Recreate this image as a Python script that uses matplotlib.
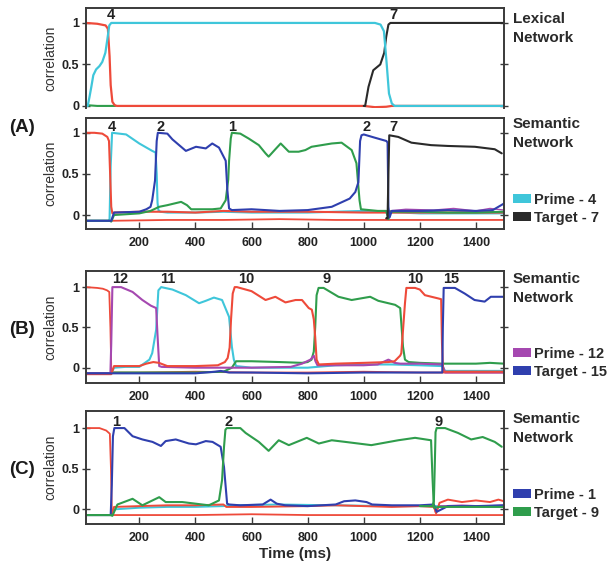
import matplotlib
matplotlib.use("Agg")
import matplotlib.pyplot as plt
from matplotlib.patches import Patch

plt.rcParams['font.family'] = ['Liberation Sans', 'DejaVu Sans']

# ---- data: (time in ms, correlation) ----
lex_red = ([10, 50, 80, 88, 94, 98, 104, 112, 120, 1000, 1040, 1080, 1100, 1500],
           [1.0, 0.99, 0.97, 0.93, 0.6, 0.25, 0.05, 0.01, 0.0, 0.0, -0.015, -0.01, 0.0, 0.0])
lex_cyan = ([10, 16, 22, 29, 36, 46, 58, 68, 79, 86, 93, 100, 1040, 1060, 1072, 1082, 1090, 1100, 1110, 1500],
            [0.0, 0.0, 0.1, 0.23, 0.37, 0.44, 0.48, 0.53, 0.64, 0.8, 0.97, 1.0, 1.0, 0.98, 0.9, 0.5, 0.15, 0.03, 0.0, 0.0])
lex_green = ([10, 50, 100, 115], [0.01, 0.0, 0.0, 0.0])
lex_black = ([1000, 1005, 1017, 1034, 1059, 1073, 1080, 1088, 1095, 1500],
             [0.0, 0.0, 0.23, 0.43, 0.5, 0.64, 0.83, 0.98, 1.0, 1.0])

a_red = ([10, 40, 68, 86, 92, 96, 100, 104, 110, 200, 300, 400, 500, 600, 800, 1000, 1200, 1500],
         [1.0, 1.0, 0.99, 0.95, 0.9, 0.5, 0.1, 0.02, 0.03, 0.04, 0.04, 0.03, 0.05, 0.04, 0.04, 0.03, 0.03, 0.03])
a_red_low = ([10, 100, 300, 500, 700, 900, 1100, 1300, 1500],
             [-0.07, -0.07, -0.06, -0.06, -0.05, -0.06, -0.06, -0.06, -0.06])
a_cyan = ([10, 90, 94, 98, 103, 153, 200, 246, 258, 262, 265, 268, 275, 300, 400, 500, 600, 800, 1000, 1200, 1500],
          [-0.07, -0.07, -0.05, 0.6, 1.0, 0.98, 0.87, 0.78, 0.76, 0.5, 0.15, 0.06, 0.04, 0.03, 0.03, 0.04, 0.03, 0.03, 0.05, 0.02, 0.02])
a_blue = ([10, 100, 110, 200, 225, 240, 246, 256, 262, 266, 300, 318, 366, 402, 437, 460, 484, 508, 514, 520, 530,
           600, 700, 800, 886, 950, 970, 981, 987, 992, 1000, 1040, 1081, 1085, 1088, 1092, 1100, 1200, 1300, 1400,
           1460, 1480, 1500],
          [-0.07, -0.07, 0.03, 0.04, 0.07, 0.1, 0.18, 0.42, 0.9, 1.0, 0.99, 0.92, 0.78, 0.83, 0.81, 0.87, 0.82, 0.66,
           0.3, 0.08, 0.06, 0.07, 0.05, 0.06, 0.1, 0.2, 0.28, 0.4, 0.9, 0.97, 0.98, 0.94, 0.9, 0.88, 0.1, -0.03, 0.05,
           0.05, 0.06, 0.05, 0.06, 0.1, 0.14])
a_green = ([10, 95, 100, 110, 200, 240, 271, 300, 349, 370, 385, 420, 460, 490, 508, 517, 520, 526, 530, 560, 590,
            626, 650, 661, 685, 704, 733, 768, 792, 814, 886, 921, 957, 974, 985, 990, 1050, 1080, 1088, 1095,
            1200, 1300, 1400, 1500],
           [-0.07, -0.07, -0.08, 0.0, 0.02, 0.05, 0.1, 0.12, 0.16, 0.12, 0.07, 0.07, 0.07, 0.08, 0.18, 0.43, 0.66,
            0.93, 1.0, 0.99, 0.93, 0.85, 0.75, 0.71, 0.8, 0.87, 0.77, 0.77, 0.79, 0.83, 0.87, 0.88, 0.79, 0.63, 0.18,
            0.07, 0.05, 0.05, -0.05, 0.04, 0.04, 0.03, 0.03, 0.04])
a_black = ([1080, 1085, 1088, 1091, 1123, 1170, 1240, 1300, 1396, 1467, 1492],
           [-0.04, -0.04, 0.5, 0.97, 0.95, 0.88, 0.85, 0.84, 0.83, 0.8, 0.75])
a_purple = ([1090, 1150, 1250, 1320, 1400, 1450, 1500], [0.05, 0.07, 0.06, 0.08, 0.05, 0.08, 0.06])
a_olive = ([1100, 1200, 1300, 1400, 1500], [0.03, 0.04, 0.03, 0.04, 0.03])

b_red_first = ([10, 50, 70, 85, 93, 97, 100, 104, 200, 400, 600, 800, 1000, 1200, 1500],
               [1.0, 0.99, 0.98, 0.96, 0.94, 0.5, 0.0, -0.06, -0.06, -0.05, -0.06, -0.06, -0.05, -0.06, -0.06])
b_red_ten = ([10, 100, 110, 200, 225, 250, 270, 300, 400, 480, 505, 515, 522, 527, 533, 540, 548, 600, 650, 685,
              721, 757, 780, 804, 815, 822, 827, 832, 840, 900, 1000, 1088, 1110, 1130, 1134, 1147, 1152, 1183,
              1200, 1218, 1265, 1276, 1279, 1283, 1350, 1420, 1500],
             [-0.08, -0.08, 0.02, 0.02, 0.05, 0.07, 0.06, 0.02, 0.02, 0.03, 0.07, 0.12, 0.25, 0.6, 0.92, 1.0, 1.0,
              0.95, 0.84, 0.88, 0.81, 0.84, 0.84, 0.74, 0.72, 0.6, 0.38, 0.1, 0.04, 0.05, 0.06, 0.07, 0.08, 0.15,
              0.18, 0.8, 0.99, 0.99, 0.97, 0.9, 0.86, 0.85, 0.3, -0.05, -0.05, -0.05, -0.05])
b_purple = ([10, 97, 100, 104, 135, 176, 211, 241, 260, 265, 271, 280, 400, 600, 740, 780, 810, 822, 828, 835, 900,
             1000, 1050, 1088, 1110, 1130, 1200, 1280, 1290, 1400, 1500],
            [-0.07, -0.07, 0.3, 1.0, 1.0, 0.94, 0.84, 0.77, 0.74, 0.4, 0.02, 0.01, 0.0, 0.0, 0.01, 0.05, 0.1, 0.15,
             0.08, 0.03, 0.03, 0.03, 0.04, 0.1, 0.06, 0.05, 0.05, 0.04, -0.06, -0.06, -0.06])
b_cyan = ([10, 100, 110, 150, 200, 236, 246, 260, 268, 278, 318, 366, 413, 437, 466, 495, 520, 530, 537, 545, 600,
           700, 800, 900, 1000, 1100, 1200, 1280, 1290, 1400, 1500],
          [-0.07, -0.07, 0.0, 0.01, 0.01, 0.1, 0.18, 0.47, 0.96, 1.0, 0.97, 0.9, 0.8, 0.83, 0.87, 0.84, 0.63, 0.26,
           0.1, 0.02, 0.0, 0.0, 0.0, 0.03, 0.04, 0.04, 0.03, 0.02, -0.04, -0.04, -0.04])
b_green = ([10, 100, 110, 200, 400, 500, 530, 545, 600, 700, 780, 800, 814, 822, 827, 832, 839, 857, 910, 957, 1023,
            1052, 1112, 1130, 1140, 1147, 1160, 1200, 1280, 1300, 1400, 1450, 1500],
           [-0.07, -0.07, -0.06, -0.06, -0.06, -0.05, 0.0, 0.08, 0.08, 0.07, 0.06, 0.07, 0.1, 0.2, 0.5, 0.9, 0.99,
            0.99, 0.88, 0.84, 0.88, 0.83, 0.78, 0.74, 0.26, 0.1, 0.07, 0.06, 0.05, 0.05, 0.05, 0.06, 0.05])
b_blue = ([10, 400, 470, 490, 520, 600, 800, 1000, 1200, 1280, 1282, 1285, 1325, 1360, 1395, 1431, 1453, 1500],
          [-0.07, -0.07, -0.05, -0.04, -0.06, -0.06, -0.07, -0.06, -0.06, -0.06, 0.5, 0.99, 0.99, 0.92, 0.84, 0.82,
           0.88, 0.88])

c_red_first = ([10, 58, 82, 95, 99, 102, 106, 200, 400, 600, 800, 1000, 1200, 1500],
               [1.0, 1.0, 0.97, 0.93, 0.5, -0.02, -0.07, -0.07, -0.07, -0.06, -0.07, -0.07, -0.07, -0.07])
c_red_low = ([10, 100, 110, 200, 300, 400, 500, 510, 600, 800, 900, 1000, 1100, 1200, 1250, 1258, 1270, 1300, 1350,
              1400, 1450, 1480, 1500],
             [-0.07, -0.07, 0.03, 0.04, 0.05, 0.05, 0.06, 0.03, 0.03, 0.04, 0.05, 0.04, 0.03, 0.04, 0.03, -0.05,
              0.08, 0.12, 0.09, 0.11, 0.09, 0.12, 0.1])
c_blue = ([10, 98, 102, 106, 111, 147, 176, 211, 247, 277, 294, 330, 377, 402, 437, 461, 490, 502, 513, 520, 560, 640,
           668, 690, 720, 800, 900, 930, 970, 1010, 1030, 1100, 1200, 1250, 1260, 1300, 1400, 1500],
          [-0.07, -0.07, 0.3, 0.9, 1.0, 1.0, 0.9, 0.86, 0.83, 0.78, 0.84, 0.86, 0.81, 0.8, 0.84, 0.83, 0.77, 0.52,
           0.07, 0.06, 0.05, 0.06, 0.12, 0.07, 0.05, 0.04, 0.06, 0.1, 0.11, 0.09, 0.06, 0.05, 0.05, 0.06, -0.03,
           0.04, 0.04, 0.05])
c_cyan = ([10, 100, 110, 200, 300, 400, 500, 520, 700, 900, 1100, 1250, 1300, 1500],
          [-0.07, -0.07, 0.0, 0.02, 0.03, 0.03, 0.04, 0.05, 0.06, 0.05, 0.04, 0.04, 0.04, 0.04])
c_green_two = ([10, 98, 104, 122, 176, 211, 271, 294, 353, 448, 484, 495, 502, 507, 512, 560, 579, 626, 661, 697,
                733, 797, 840, 886, 934, 1027, 1123, 1183, 1240, 1245, 1250, 1270, 1400, 1500],
               [-0.07, -0.07, -0.08, 0.06, 0.13, 0.05, 0.15, 0.09, 0.09, 0.05, 0.11, 0.36, 0.77, 0.98, 1.0, 1.0,
                0.94, 0.83, 0.72, 0.85, 0.79, 0.88, 0.81, 0.85, 0.83, 0.79, 0.85, 0.88, 0.85, 0.4, 0.02, 0.03,
                0.03, 0.03])
c_green_nine = ([1200, 1245, 1250, 1253, 1256, 1260, 1290, 1336, 1383, 1424, 1467, 1492],
                [0.04, 0.04, 0.1, 0.5, 0.95, 1.0, 1.0, 0.94, 0.86, 0.89, 0.83, 0.77])
c_purple = ([1255, 1270, 1350, 1420, 1500], [-0.03, 0.04, 0.05, 0.04, 0.05])

xticks = [200, 400, 600, 800, 1000, 1200, 1400]
yticks = [0, 0.5, 1]
ytick_labels = ['0', '0.5', '1']

lex_words = [('4', 100), ('7', 1105)]
a_words = [('4', 104), ('2', 277), ('1', 530), ('2', 1010), ('7', 1105)]
b_words = [('12', 132), ('11', 300), ('10', 580), ('9', 868), ('10', 1184), ('15', 1311)]
c_words = [('1', 118), ('2', 517), ('9', 1265)]

a_legend = ['Prime - 4', 'Target - 7']
b_legend = ['Prime - 12', 'Target - 15']
c_legend = ['Prime - 1', 'Target - 9']

# ---- colours ----
RED = '#ee4a3a'
CYAN = '#3fc6da'
BLUE = '#2f3fae'
GREEN = '#2f9d4c'
BLACK = '#2a2a2a'
PURPLE = '#a548b0'
OLIVE = '#b9b24a'
FRAME = '#3a3a3a'

W, H = 615, 565
fig = plt.figure(figsize=(W / 100, H / 100), dpi=100)


def make_axes(top_px, bottom_px):
    left, right = 86, 504
    return fig.add_axes([left / W, 1 - bottom_px / H, (right - left) / W, (bottom_px - top_px) / H])


def style(ax, ylim, show_x=True):
    ax.set_xlim(10, 1500)
    ax.set_ylim(*ylim)
    for s in ax.spines.values():
        s.set_color(FRAME)
        s.set_linewidth(1.4)
    ax.set_yticks(yticks)
    ax.set_yticklabels(ytick_labels)
    ax.tick_params(axis='y', direction='inout', length=6, width=1, color=FRAME, right=True,
                   labelsize=9, labelcolor='#222222', pad=2)
    for lab in ax.get_yticklabels():
        lab.set_fontweight('bold')
    if show_x:
        ax.set_xticks(xticks)
        ax.tick_params(axis='x', direction='in', length=5, width=1, color=FRAME,
                       labelsize=9, labelcolor='#222222', pad=6)
        for lab in ax.get_xticklabels():
            lab.set_fontweight('bold')
    else:
        ax.set_xticks([])
        ax.spines['bottom'].set_visible(False)
    ax.set_ylabel('correlation', fontsize=10, color='#333333', labelpad=3)


def draw(ax, traces):
    for (t, v), c, w in traces:
        ax.plot(t, v, color=c, lw=w, solid_capstyle='round', solid_joinstyle='round')


def words(ax, items, y):
    for txt, t in items:
        ax.text(t, y, txt, fontsize=10.5, fontweight='bold', ha='center', va='center', color='#222222')


def side_text(ax, lines, top_px, legend=None, colors=None):
    fig.text(513 / W, 1 - top_px / H, lines, fontsize=11, fontweight='bold',
             va='top', ha='left', color='#2a2a2a', linespacing=1.45)
    if legend:
        handles = [Patch(facecolor=c, edgecolor='none', label=l) for c, l in zip(colors, legend)]
        leg = ax.legend(handles=handles, loc='lower left', bbox_to_anchor=(1.01, 0.0), frameon=False,
                        handlelength=1.25, handleheight=0.55, handletextpad=0.25, labelspacing=0.25,
                        borderpad=0.1, borderaxespad=0.2, prop={'weight': 'bold', 'size': 10.5})
        for t in leg.get_texts():
            t.set_color('#2a2a2a')


# lexical network
ax0 = make_axes(8, 108)
draw(ax0, [(lex_green, GREEN, 1.5), (lex_red, RED, 1.6), (lex_black, BLACK, 1.5), (lex_cyan, CYAN, 1.6)])
style(ax0, (-0.025, 1.18), show_x=False)
words(ax0, lex_words, 1.1)
side_text(ax0, 'Lexical\nNetwork', 12)

# (A)
axA = make_axes(118, 229)
draw(axA, [(a_red_low, RED, 1.3), (a_olive, OLIVE, 1.0), (a_purple, PURPLE, 1.0), (a_cyan, CYAN, 1.5),
           (a_red, RED, 1.5), (a_green, GREEN, 1.5), (a_blue, BLUE, 1.5), (a_black, BLACK, 1.5)])
style(axA, (-0.17, 1.18))
words(axA, a_words, 1.07)
side_text(axA, 'Semantic\nNetwork', 117, a_legend, [CYAN, BLACK])

# (B)
axB = make_axes(271, 383)
draw(axB, [(b_red_first, RED, 1.3), (b_cyan, CYAN, 1.5), (b_green, GREEN, 1.5), (b_purple, PURPLE, 1.5),
           (b_red_ten, RED, 1.5), (b_blue, BLUE, 1.5)])
style(axB, (-0.19, 1.2))
words(axB, b_words, 1.1)
side_text(axB, 'Semantic\nNetwork', 272, b_legend, [PURPLE, BLUE])

# (C)
axC = make_axes(411, 524)
draw(axC, [(c_red_first, RED, 1.3), (c_cyan, CYAN, 1.4), (c_purple, PURPLE, 1.2), (c_red_low, RED, 1.4),
           (c_blue, BLUE, 1.5), (c_green_two, GREEN, 1.5), (c_green_nine, GREEN, 1.5)])
style(axC, (-0.18, 1.21))
words(axC, c_words, 1.08)
side_text(axC, 'Semantic\nNetwork', 412, c_legend, [BLUE, GREEN])
axC.set_xlabel('Time (ms)', fontsize=11, fontweight='bold', color='#2a2a2a', labelpad=2)

for lab, ypx in [('(A)', 128), ('(B)', 330), ('(C)', 470)]:
    fig.text(22 / W, 1 - ypx / H, lab, fontsize=13.5, fontweight='bold', ha='center', va='center',
             color='#1a1a1a')

fig.savefig('out.png', dpi=100)
